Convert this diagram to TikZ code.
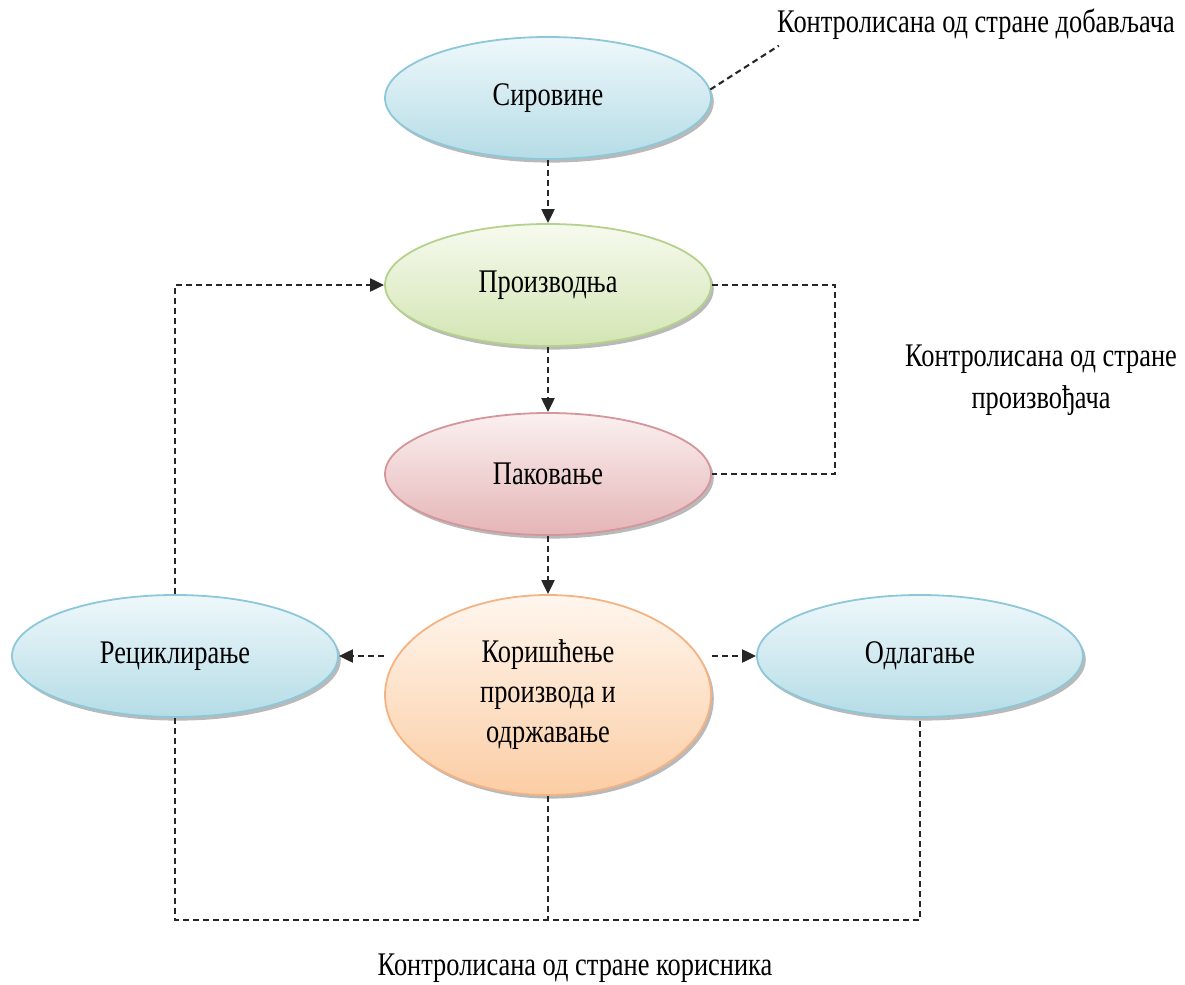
\documentclass[tikz,border=0pt]{standalone}
\usepackage{fontspec}
\setmainfont{Liberation Serif}[FakeStretch=0.8]
\usetikzlibrary{shapes.geometric,arrows.meta,shadows}
\definecolor{bluetop}{HTML}{EEF8FB}
\definecolor{bluebot}{HTML}{B5DCE6}
\definecolor{blueline}{HTML}{8CC8D9}
\definecolor{greentop}{HTML}{F6FAEE}
\definecolor{greenbot}{HTML}{D3E5B3}
\definecolor{greenline}{HTML}{B5D18C}
\definecolor{redtop}{HTML}{FBF0F0}
\definecolor{redbot}{HTML}{E5B5B7}
\definecolor{redline}{HTML}{D4969A}
\definecolor{orangetop}{HTML}{FFF6EE}
\definecolor{orangebot}{HTML}{FBCDA4}
\definecolor{orangeline}{HTML}{F4B383}
\tikzset{
  stage/.style={ellipse, minimum width=163pt, minimum height=61pt, inner sep=0pt,
    line width=0.9pt, align=center, font=\fontsize{16.5}{20}\selectfont,
    drop shadow={shadow xshift=1.4pt, shadow yshift=-1.8pt, fill=black!50, opacity=0.55}},
  bluestage/.style={stage, draw=blueline, top color=bluetop, bottom color=bluebot},
  greenstage/.style={stage, draw=greenline, top color=greentop, bottom color=greenbot},
  redstage/.style={stage, draw=redline, top color=redtop, bottom color=redbot},
  orangestage/.style={stage, draw=orangeline, top color=orangetop, bottom color=orangebot, minimum height=100pt},
  note/.style={align=center, font=\fontsize{16.5}{21}\selectfont, inner sep=0pt},
  link/.style={draw=black!85, line width=1.05pt, dash pattern=on 3pt off 2pt},
  arr/.style={link, -{Triangle[length=7pt, width=6.5pt]}},
}
\begin{document}
\begin{tikzpicture}[x=0.5pt, y=-0.5pt]
\useasboundingbox (0,0) rectangle (1185,985);

\node[bluestage] (s) at (548,98) {Сировине};
\node[greenstage] (p) at (548,285) {Производња};
\node[redstage] (k) at (548,474) {Паковање};
\node[orangestage] (u) at (548,695) {Коришћење\\производа и\\одржавање};
\node[bluestage] (r) at (175,656) {Рециклирање};
\node[bluestage] (o) at (920,656) {Одлагање};

\node[note] (d) at (976,24) {Контролисана од стране добављача};
\node[note] (pm) at (1041,380) {Контролисана од стране\\произвођача};
\node[note] (km) at (575,968) {Контролисана од стране корисника};

\coordinate (pr) at (835,0);
\coordinate (bot) at (0,920);

\draw[arr] (s.south) -- (p.north);
\draw[arr] (p.south) -- (k.north);
\draw[arr] (k.south) -- (u.north);
\draw[arr] (u.west |- r.east) -- (r.east);
\draw[arr] (u.east |- o.west) -- (o.west);
\draw[arr] (r.north) |- (p.west);
\draw[link] (p.east) -- (p.east -| pr) -- (k.east -| pr) -- (k.east);
\draw[link] (s.3) -- ([xshift=1pt,yshift=-3pt]d.south west);
\draw[link] (r.south) -- (r.south |- bot) -- (o.south |- bot) -- (o.south);
\draw[link] (u.south) -- (u.south |- bot);
\end{tikzpicture}
\end{document}
